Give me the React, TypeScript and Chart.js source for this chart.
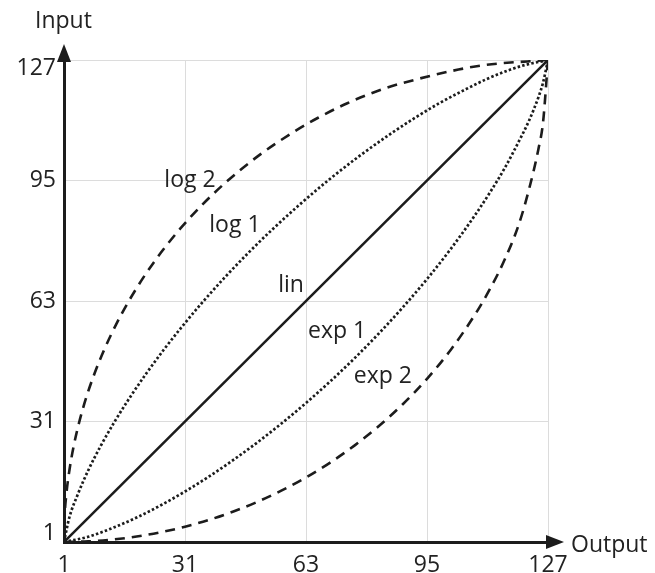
import React, { useEffect, useRef } from "react";
import { Chart, registerables } from "chart.js";

Chart.register(...registerables);

// sample positions along the Output axis
const xSamples = [
  1, 7.3, 13.6, 19.9, 26.2, 32.5, 38.8, 45.1, 51.4, 57.7, 64, 70.3, 76.6, 82.9, 89.2, 95.5,
  101.8, 108.1, 111.9, 115.7, 119.4, 122, 124.5, 125.7, 127,
];
// exp curves (Input value at each sample)
const exp1Values = [
  1, 2.36, 4.65, 7.39, 10.6, 14.2, 18.16, 22.46, 27.08, 32.05, 37.34, 42.98, 49.0, 55.44, 62.34,
  69.73, 77.77, 86.59, 92.39, 98.69, 105.71, 111.01, 117.24, 121.04, 127,
];
const exp2Values = [
  1, 1.16, 1.63, 2.43, 3.55, 5.0, 6.8, 8.97, 11.52, 14.48, 17.88, 21.77, 26.2, 31.25, 37.02,
  43.66, 51.4, 60.62, 67.15, 74.76, 84.01, 92.98, 103.69, 110.62, 127,
];
// linear curve
const linX = [1, 127];
const linY = [1, 127];

const tickPositions = [1, 32.5, 64, 95.5, 127];
const tickLabels = ["1", "31", "63", "95", "127"];

const curveLabels = ["log 2", "log 1", "lin", "exp 1", "exp 2"];
const curveLabelX = [33.8, 45.5, 60.1, 72.1, 84.0];
const curveLabelY = [93.8, 82, 66.4, 54.3, 42.6];

const FONT = '"Open Sans", "DejaVu Sans", sans-serif';
const INK = "#1c1c1c";

export default function App() {
  const ref = useRef<HTMLCanvasElement | null>(null);

  useEffect(() => {
    if (!ref.current) return;

    const overlay = {
      id: "overlay",
      afterDraw(chart: any) {
        const { ctx, chartArea } = chart;
        const { left, top, right, bottom } = chartArea;
        const xs = chart.scales.x;
        const ys = chart.scales.y;
        ctx.save();
        ctx.fillStyle = INK;
        ctx.beginPath();
        ctx.moveTo(left, top - 16);
        ctx.lineTo(left - 7, top + 2);
        ctx.lineTo(left + 7, top + 2);
        ctx.closePath();
        ctx.fill();
        ctx.beginPath();
        ctx.moveTo(right + 16, bottom);
        ctx.lineTo(right - 2, bottom - 7);
        ctx.lineTo(right - 2, bottom + 7);
        ctx.closePath();
        ctx.fill();

        ctx.fillStyle = "#222";
        ctx.font = `23px ${FONT}`;
        ctx.textBaseline = "alphabetic";
        ctx.textAlign = "left";
        ctx.fillText("Input", left - 29, top - 32);
        ctx.fillText("Output", right + 23, bottom + 10);
        ctx.textAlign = "center";
        curveLabels.forEach((t, i) => {
          ctx.fillText(t, xs.getPixelForValue(curveLabelX[i]), ys.getPixelForValue(curveLabelY[i]));
        });
        ctx.restore();
      },
    };

    const lineBase = {
      borderColor: INK,
      pointRadius: 0,
      cubicInterpolationMode: "monotone",
      fill: false,
    };

    const chart = new Chart(ref.current, {
      type: "line",
      data: {
        datasets: [
          {
            ...lineBase,
            label: "lin",
            data: linX.map((x, i) => ({ x, y: linY[i] })),
            borderWidth: 2.5,
            tension: 0,
            cubicInterpolationMode: "default",
          },
          {
            ...lineBase,
            label: "exp 1",
            data: xSamples.map((x, i) => ({ x, y: exp1Values[i] })),
            borderWidth: 2.7,
            borderDash: [2.5, 2.2],
          },
          {
            ...lineBase,
            label: "log 1",
            data: xSamples.map((x, i) => ({ x: exp1Values[i], y: x })),
            borderWidth: 2.7,
            borderDash: [2.5, 2.2],
          },
          {
            ...lineBase,
            label: "exp 2",
            data: xSamples.map((x, i) => ({ x, y: exp2Values[i] })),
            borderWidth: 2.6,
            borderDash: [10, 7],
          },
          {
            ...lineBase,
            label: "log 2",
            data: xSamples.map((x, i) => ({ x: exp2Values[i], y: x })),
            borderWidth: 2.6,
            borderDash: [10, 7],
          },
        ],
      },
      options: {
        animation: false,
        responsive: false,
        maintainAspectRatio: false,
        layout: { padding: { top: 60, right: 107, left: 0, bottom: 0 } },
        plugins: {
          legend: { display: false },
          tooltip: { enabled: false },
        },
        scales: {
          x: {
            type: "linear",
            min: 1,
            max: 127,
            afterBuildTicks: (s: any) => {
              s.ticks = tickPositions.map((v) => ({ value: v }));
            },
            afterFit: (s: any) => {
              s.height = 31;
            },
            ticks: {
              callback: (_v: any, i: number) => tickLabels[i],
              font: { family: FONT, size: 23 },
              color: "#222",
              padding: 10,
              maxRotation: 0,
              autoSkip: false,
            },
            grid: { color: "#dcdcdc", lineWidth: 1, drawTicks: false },
            border: { display: true, color: INK, width: 3 },
          },
          y: {
            type: "linear",
            min: 1,
            max: 127,
            afterBuildTicks: (s: any) => {
              s.ticks = tickPositions.map((v) => ({ value: v }));
            },
            afterFit: (s: any) => {
              s.width = 64;
            },
            ticks: {
              callback: (_v: any, i: number) =>
                i === 0 ? [tickLabels[i], ""] : i === tickLabels.length - 1 ? ["", tickLabels[i]] : tickLabels[i],
              font: { family: FONT, size: 23, lineHeight: 0.7 },
              color: "#222",
              padding: 8,
              autoSkip: false,
            },
            grid: { color: "#dcdcdc", lineWidth: 1, drawTicks: false },
            border: { display: true, color: INK, width: 3 },
          },
        },
      },
      plugins: [overlay],
    } as any);

    return () => chart.destroy();
  }, []);

  return (
    <div style={{ position: "absolute", left: 0, top: 0, width: 655, height: 573, background: "#fff" }}>
      <canvas ref={ref} width={655} height={573} style={{ width: 655, height: 573 }} />
    </div>
  );
}
